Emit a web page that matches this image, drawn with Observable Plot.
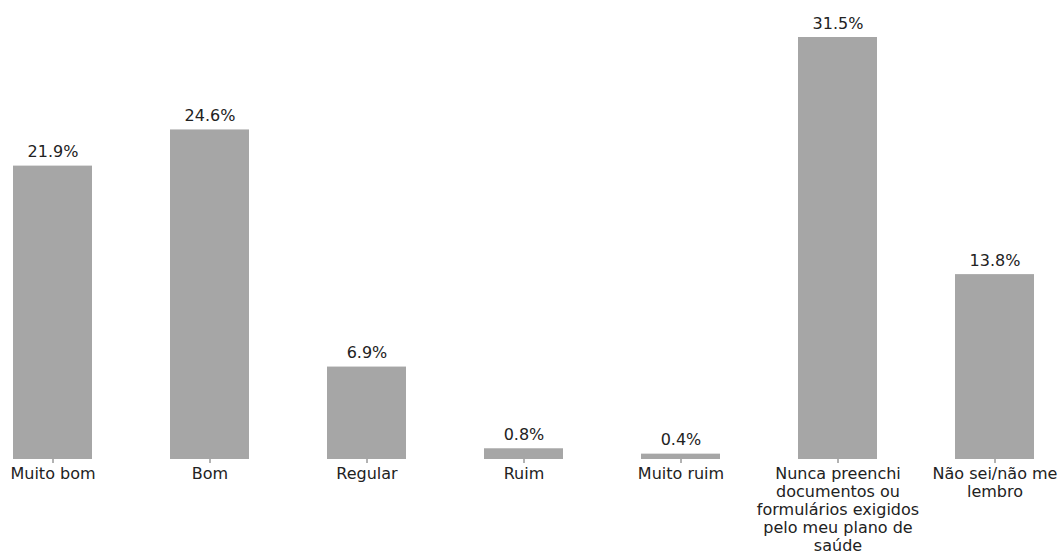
<!DOCTYPE html>
<html>
<head>
<meta charset="utf-8">
<script src="https://cdn.jsdelivr.net/npm/d3@7"></script>
<script src="https://cdn.jsdelivr.net/npm/@observablehq/plot@0.6"></script>
<style>
  html, body { margin: 0; padding: 0; background: #fff; }
</style>
</head>
<body>
<div id="chart"></div>
<script>
const categories = ["Muito bom", "Bom", "Regular", "Ruim", "Muito ruim", "Nunca preenchi documentos ou formulários exigidos pelo meu plano de saúde", "Não sei/não me lembro"];
const values = [21.9, 24.6, 6.9, 0.8, 0.4, 31.5, 13.8];
const tickLabels = ["Muito bom", "Bom", "Regular", "Ruim", "Muito ruim", "Nunca preenchi\ndocumentos ou\nformulários exigidos\npelo meu plano de\nsaúde", "Não sei/não me\nlembro"];

const data = categories.map((c, i) => ({category: c, value: values[i], label: tickLabels[i]}));
const labelOf = new Map(categories.map((c, i) => [c, tickLabels[i]]));

const chart = Plot.plot({
  width: 1058,
  height: 555,
  marginLeft: 0,
  marginRight: 11,
  marginTop: 37,
  marginBottom: 96,
  style: {fontFamily: "DejaVu Sans", fontSize: "16px", color: "#222", background: "#fff"},
  x: {domain: categories, paddingInner: 0.5, paddingOuter: 0.083, align: 0.5},
  y: {domain: [0, 31.5], axis: null},
  marks: [
    Plot.barY(data, {x: "category", y: "value", fill: "#a6a6a6"}),
    Plot.text(data, {x: "category", y: "value", text: d => d.value.toFixed(1) + "%", dy: -9, lineAnchor: "bottom", fontSize: 16, fill: "#222"}),
    Plot.axisX({tickFormat: d => labelOf.get(d), tickSize: 4, tickPadding: 3, lineHeight: 1.12, stroke: "#666", fill: "#222", fontSize: 16, label: null})
  ]
});
document.getElementById("chart").appendChild(chart);
</script>
</body>
</html>
